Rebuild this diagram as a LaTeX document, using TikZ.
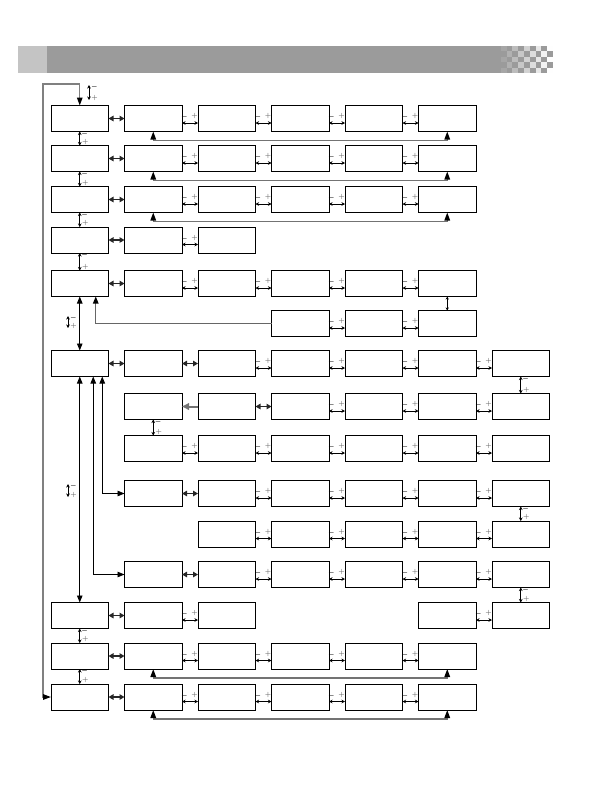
\documentclass[tikz,border=0pt]{standalone}
\usepackage{xcolor}
\usepackage{tikz}
\usetikzlibrary{positioning, arrows.meta}

\definecolor{bandgray}{HTML}{9B9B9B}
\definecolor{bandlight}{HTML}{C4C4C4}

\begin{document}
\begin{tikzpicture}[
        x=1pt, y=-1pt,
        node distance=16pt,
        box/.style={draw, line width=0.8pt, minimum width=57.5pt,
            minimum height=26pt, inner sep=0pt, outer sep=0pt},
        sign/.style={inner sep=0pt, font=\fontsize{6.5}{6.5}\selectfont\boldmath},
        plus/.style={text=black!60},
        pm/.style={<->, >={Stealth[length=3.5pt, width=3.5pt]}, line width=0.6pt,
            to path={([yshift=-4.5pt]\tikztostart.east) -- ([yshift=-4.5pt]\tikztotarget.west)
                node[sign] at ([xshift=2.5pt, yshift=1.5pt]\tikztostart.east) {$-$}
                node[sign, plus] at ([xshift=-3.5pt, yshift=2.5pt]\tikztotarget.west) {$+$}}},
        vpm/.style={<->, >={Stealth[length=3.5pt, width=3.5pt]}, line width=0.6pt,
            to path={(\tikztostart.south) -- (\tikztotarget.north)
                node[sign] at ([xshift=5pt, yshift=-2pt]\tikztostart.south) {$-$}
                node[sign, plus] at ([xshift=5.5pt, yshift=4pt]\tikztotarget.north) {$+$}}},
        pmfree/.style={<->, >={Stealth[length=3.5pt, width=3.5pt]}, line width=0.6pt,
            to path={(\tikztostart) -- (\tikztotarget)
                node[sign] at ([xshift=5.5pt, yshift=-1.5pt]\tikztostart) {$-$}
                node[sign, plus] at ([xshift=5.5pt, yshift=2.5pt]\tikztotarget) {$+$}}},
        hop/.style={<->, >={Stealth[length=3pt, width=3pt]}, line width=0.6pt},
        link/.style={<->, >={Triangle[length=5pt, width=5.5pt]}, line width=1.5pt, draw=black!85},
        grayarrow/.style={-{Triangle[length=7pt, width=6.5pt]}, line width=2pt, draw=black!55},
        back/.style={<->, >={Triangle[length=8pt, width=5.5pt, color=black]},
            line width=1.4pt, draw=black!55,
            to path={(\tikztostart.south) -- ++(0,9) -| (\tikztotarget.south)}},
        bus/.style={<->, >={Triangle[length=7pt, width=5.5pt]}, line width=0.9pt}
    ]
    \useasboundingbox (0,0) rectangle (596,806);

    % header band
    \fill[bandlight] (18,46) rectangle (47,73);
    \fill[bandgray] (47,46) rectangle (495,73);
    \foreach \i in {0,...,9} {
        \foreach \j in {0,...,4} {
            \pgfmathtruncatemacro{\odd}{mod(\i+\j,2)}
            \pgfmathtruncatemacro{\tone}{100-11*\i}
            \ifnum\odd=1
                \fill[bandgray!\tone!white] (495+5.8*\i,46+5.4*\j) rectangle ++(5.8,5.4);
            \else
                \fill[bandgray] (495+5.8*\i,46+5.4*\j) rectangle ++(5.8,5.4);
            \fi
        }
    }

    % row A
    \node[box] (A0) at (79.75,118.5) {};
    \node[box] (A1) [right=of A0] {};
    \node[box] (A2) [right=of A1] {};
    \node[box] (A3) [right=of A2] {};
    \node[box] (A4) [right=of A3] {};
    \node[box] (A5) [right=of A4] {};
    % row B
    \node[box] (B0) at (79.75,158.5) {};
    \node[box] (B1) [right=of B0] {};
    \node[box] (B2) [right=of B1] {};
    \node[box] (B3) [right=of B2] {};
    \node[box] (B4) [right=of B3] {};
    \node[box] (B5) [right=of B4] {};
    % row C
    \node[box] (C0) at (79.75,199.5) {};
    \node[box] (C1) [right=of C0] {};
    \node[box] (C2) [right=of C1] {};
    \node[box] (C3) [right=of C2] {};
    \node[box] (C4) [right=of C3] {};
    \node[box] (C5) [right=of C4] {};
    % row D
    \node[box] (D0) at (79.75,240) {};
    \node[box] (D1) [right=of D0] {};
    \node[box] (D2) [right=of D1] {};
    % row E
    \node[box] (E0) at (79.75,283.5) {};
    \node[box] (E1) [right=of E0] {};
    \node[box] (E2) [right=of E1] {};
    \node[box] (E3) [right=of E2] {};
    \node[box] (E4) [right=of E3] {};
    \node[box] (E5) [right=of E4] {};
    % row F
    \node[box] (F3) at (300.25,323.5) {};
    \node[box] (F4) [right=of F3] {};
    \node[box] (F5) [right=of F4] {};
    % row G
    \node[box] (G0) at (79.75,363.5) {};
    \node[box] (G1) [right=of G0] {};
    \node[box] (G2) [right=of G1] {};
    \node[box] (G3) [right=of G2] {};
    \node[box] (G4) [right=of G3] {};
    \node[box] (G5) [right=of G4] {};
    \node[box] (G6) [right=of G5] {};
    % row H
    \node[box] (H1) at (153.25,406.5) {};
    \node[box] (H2) [right=of H1] {};
    \node[box] (H3) [right=of H2] {};
    \node[box] (H4) [right=of H3] {};
    \node[box] (H5) [right=of H4] {};
    \node[box] (H6) [right=of H5] {};
    % row I
    \node[box] (I1) at (153.25,448.5) {};
    \node[box] (I2) [right=of I1] {};
    \node[box] (I3) [right=of I2] {};
    \node[box] (I4) [right=of I3] {};
    \node[box] (I5) [right=of I4] {};
    \node[box] (I6) [right=of I5] {};
    % row J
    \node[box] (J1) at (153.25,493.5) {};
    \node[box] (J2) [right=of J1] {};
    \node[box] (J3) [right=of J2] {};
    \node[box] (J4) [right=of J3] {};
    \node[box] (J5) [right=of J4] {};
    \node[box] (J6) [right=of J5] {};
    % row K
    \node[box] (K2) at (226.75,534) {};
    \node[box] (K3) [right=of K2] {};
    \node[box] (K4) [right=of K3] {};
    \node[box] (K5) [right=of K4] {};
    \node[box] (K6) [right=of K5] {};
    % row L
    \node[box] (L1) at (153.25,574.5) {};
    \node[box] (L2) [right=of L1] {};
    \node[box] (L3) [right=of L2] {};
    \node[box] (L4) [right=of L3] {};
    \node[box] (L5) [right=of L4] {};
    \node[box] (L6) [right=of L5] {};
    % row M
    \node[box] (M0) at (79.75,615.5) {};
    \node[box] (M1) [right=of M0] {};
    \node[box] (M2) [right=of M1] {};
    \node[box] (M5) at (447.25,615.5) {};
    \node[box] (M6) [right=of M5] {};
    % row N
    \node[box] (N0) at (79.75,656) {};
    \node[box] (N1) [right=of N0] {};
    \node[box] (N2) [right=of N1] {};
    \node[box] (N3) [right=of N2] {};
    \node[box] (N4) [right=of N3] {};
    \node[box] (N5) [right=of N4] {};
    % row O
    \node[box] (O0) at (79.75,697) {};
    \node[box] (O1) [right=of O0] {};
    \node[box] (O2) [right=of O1] {};
    \node[box] (O3) [right=of O2] {};
    \node[box] (O4) [right=of O3] {};
    \node[box] (O5) [right=of O4] {};

    \coordinate (loop) at (43,84);
    \coordinate (t1) at (89,85);
    \coordinate (t2) at (89,100);
    \coordinate (u1) at (68,316);
    \coordinate (u2) at (68,328);
    \coordinate (v1) at (68,484);
    \coordinate (v2) at (68,497);

    % outer loop
    \draw[<->, >={Triangle[length=8pt, width=5.5pt, color=black]}, line width=1.3pt, draw=black!50]
        (A0) |- (loop) |- (O0);

    \path
    (t1) edge[pmfree] (t2)
    (u1) edge[pmfree] (u2)
    (v1) edge[pmfree] (v2)

    (A0) edge[vpm] (B0)
    (B0) edge[vpm] (C0)
    (C0) edge[vpm] (D0)
    (D0) edge[vpm] (E0)
    (M0) edge[vpm] (N0)
    (N0) edge[vpm] (O0)
    (G6) edge[vpm] (H6)
    (H1) edge[vpm] (I1)
    (J6) edge[vpm] (K6)
    (L6) edge[vpm] (M6)
    (E5) edge[hop] (F5)

    (A0) edge[link] (A1)
    (B0) edge[link] (B1)
    (C0) edge[link] (C1)
    (D0) edge[link] (D1)
    (E0) edge[link] (E1)
    (G0) edge[link] (G1)
    (G1) edge[link] (G2)
    (H2) edge[grayarrow] (H1)
    (H2) edge[link] (H3)
    (J1) edge[link] (J2)
    (L1) edge[link] (L2)
    (M0) edge[link] (M1)
    (N0) edge[link] (N1)
    (O0) edge[link] (O1);

    \path
    (A1) edge[pm] (A2) (A2) edge[pm] (A3) (A3) edge[pm] (A4) (A4) edge[pm] (A5)
    (B1) edge[pm] (B2) (B2) edge[pm] (B3) (B3) edge[pm] (B4) (B4) edge[pm] (B5)
    (C1) edge[pm] (C2) (C2) edge[pm] (C3) (C3) edge[pm] (C4) (C4) edge[pm] (C5)
    (D1) edge[pm] (D2)
    (E1) edge[pm] (E2) (E2) edge[pm] (E3) (E3) edge[pm] (E4) (E4) edge[pm] (E5)
    (F3) edge[pm] (F4) (F4) edge[pm] (F5)
    (G2) edge[pm] (G3) (G3) edge[pm] (G4) (G4) edge[pm] (G5) (G5) edge[pm] (G6)
    (H3) edge[pm] (H4) (H4) edge[pm] (H5) (H5) edge[pm] (H6)
    (I1) edge[pm] (I2) (I2) edge[pm] (I3) (I3) edge[pm] (I4) (I4) edge[pm] (I5) (I5) edge[pm] (I6)
    (J2) edge[pm] (J3) (J3) edge[pm] (J4) (J4) edge[pm] (J5) (J5) edge[pm] (J6)
    (K2) edge[pm] (K3) (K3) edge[pm] (K4) (K4) edge[pm] (K5) (K5) edge[pm] (K6)
    (L2) edge[pm] (L3) (L3) edge[pm] (L4) (L4) edge[pm] (L5) (L5) edge[pm] (L6)
    (M1) edge[pm] (M2) (M5) edge[pm] (M6)
    (N1) edge[pm] (N2) (N2) edge[pm] (N3) (N3) edge[pm] (N4) (N4) edge[pm] (N5)
    (O1) edge[pm] (O2) (O2) edge[pm] (O3) (O3) edge[pm] (O4) (O4) edge[pm] (O5);

    % return lines
    \path
    (A1) edge[back] (A5)
    (B1) edge[back] (B5)
    (C1) edge[back] (C5)
    (N1) edge[back] (N5)
    (O1) edge[back] (O5);

    \draw[->, >={Triangle[length=7pt, width=5.5pt, color=black]}, line width=1.1pt, draw=black!60]
        (F3) -| ([xshift=16pt]E0.south);
    \draw[bus] (E0) -- (G0);
    \draw[bus] (G0) -- (M0);
    \draw[bus] (L1) -| ([xshift=13.5pt]G0.south);
    \draw[bus] (J1) -| ([xshift=22.5pt]G0.south);
\end{tikzpicture}
\end{document}
